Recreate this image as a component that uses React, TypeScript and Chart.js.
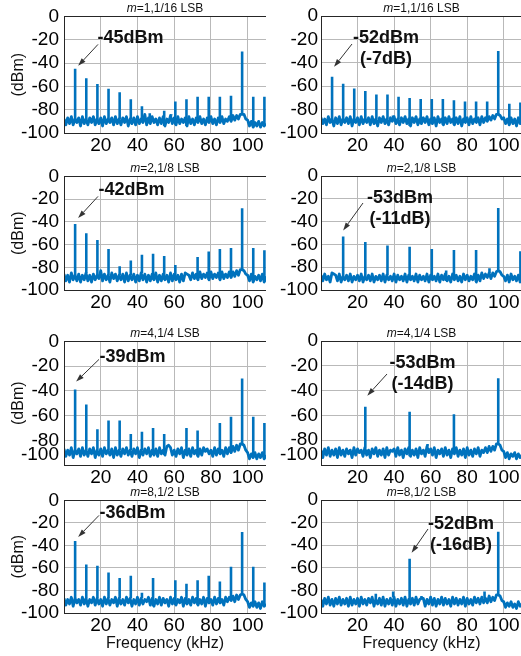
import React, { useEffect, useRef } from 'react';
import { Chart, registerables } from 'chart.js';

Chart.register(...registerables);

const FONT = '"Liberation Sans", Arial, Helvetica, sans-serif';
const TRACE = '#0072bd';
const GRID = '#b9b9b9';
const FRAME = '#262626';
const INK = '#111111';

// Axes: frequency in kHz, level in dBm
const FREQ_RANGE = [0, 110];
const FREQ_TICKS = [0, 20, 40, 60, 80, 100];
const LEVEL_RANGE = [-100, 0];
const LEVEL_TICKS = [0, -20, -40, -60, -80, -100];

// Noise-floor traces are sampled on a 1 kHz grid starting at 0 kHz
const NOISE_START_KHZ = 0;
const NOISE_STEP_KHZ = 1;

const ditherOrders = ['1', '2', '4', '8'];
const ditherSteps = ['1/16', '1/8', '1/4', '1/2'];

// ---- m = 1 ----
const noiseA_m1 = [
  -88, -93, -87, -92, -86, -93, -88, -91, -87, -94,
  -86, -92, -88, -93, -87, -91, -86, -93, -88, -92,
  -87, -94, -86, -92, -88, -91, -87, -93, -86, -92,
  -88, -93, -87, -91, -86, -94, -88, -92, -87, -93,
  -86, -92, -88, -91, -84, -93, -87, -92, -86, -91,
  -88, -93, -87, -92, -86, -94, -88, -91, -85, -92,
  -87, -93, -86, -92, -88, -91, -87, -94, -86, -92,
  -88, -93, -87, -91, -86, -92, -88, -93, -87, -91,
  -86, -92, -88, -93, -87, -91, -86, -92, -88, -90,
  -86, -90, -85, -89, -85, -88, -84, -84, -84, -88,
  -89, -94, -90, -95, -91, -94, -90, -95, -91, -94, -92,
];
const spursA_m1: [number, number][] = [
  [6.06, -45], [12.13, -53], [18.19, -58], [24.25, -62], [30.31, -65], [36.38, -71],
  [42.44, -77], [46.7, -83], [54.56, -81], [58.4, -84], [60.63, -73], [66.69, -71],
  [72.75, -69], [78.81, -69], [84.88, -69], [90.94, -68], [97, -30], [103.06, -69], [109.13, -69],
];
const noiseB_m1 = [
  -87, -92, -88, -93, -86, -91, -88, -94, -87, -92,
  -86, -93, -88, -91, -87, -92, -86, -94, -88, -91,
  -87, -93, -86, -92, -88, -91, -87, -93, -86, -92,
  -88, -94, -87, -91, -86, -92, -88, -93, -87, -90,
  -86, -92, -88, -93, -87, -91, -86, -92, -88, -94,
  -87, -91, -86, -93, -88, -92, -87, -91, -86, -93,
  -88, -92, -87, -94, -86, -91, -88, -93, -87, -92,
  -86, -91, -88, -93, -87, -92, -86, -94, -88, -91,
  -87, -93, -86, -92, -88, -91, -87, -93, -86, -91,
  -87, -90, -86, -89, -85, -88, -84, -84, -85, -88,
  -87, -92, -88, -93, -87, -92, -88, -94, -87, -92, -89,
];
const spursB_m1: [number, number][] = [
  [6.06, -52], [12.13, -58], [18.19, -62], [24.25, -64], [30.31, -67], [36.38, -67],
  [39.4, -85], [42.44, -69], [48.5, -70], [54.56, -71], [60.63, -71], [66.69, -71],
  [72.75, -72], [78.81, -73], [84.88, -73], [90.94, -73], [97, -30], [103.06, -75], [109.13, -74],
];

// ---- m = 2 ----
const noiseA_m2 = [
  -86, -92, -87, -93, -85, -91, -87, -92, -86, -93,
  -87, -91, -85, -92, -87, -93, -86, -91, -87, -90,
  -83, -92, -86, -91, -87, -93, -85, -90, -86, -92,
  -87, -91, -86, -93, -85, -92, -87, -91, -86, -93,
  -87, -92, -85, -91, -86, -93, -87, -92, -86, -91,
  -85, -93, -87, -92, -86, -91, -87, -93, -85, -92,
  -86, -91, -87, -93, -86, -92, -85, -86, -87, -91,
  -85, -90, -86, -91, -84, -90, -86, -89, -85, -91,
  -84, -90, -86, -89, -85, -91, -84, -90, -86, -89,
  -84, -89, -84, -88, -83, -87, -82, -82, -83, -86,
  -87, -92, -86, -93, -88, -91, -87, -92, -86, -93, -88,
];
const spursA_m2: [number, number][] = [
  [6.06, -42], [12.13, -50], [18.19, -56], [24.25, -64], [30.31, -79], [36.38, -74],
  [42.44, -69], [48.5, -68], [54.56, -70], [60.63, -78], [72.75, -71], [78.81, -66],
  [84.88, -64], [90.94, -63], [97, -28], [103.06, -63], [109.13, -65],
];
const noiseB_m2 = [
  -87, -92, -86, -91, -88, -93, -85, -86, -87, -92,
  -86, -93, -88, -91, -87, -92, -86, -93, -88, -91,
  -87, -92, -86, -93, -88, -91, -87, -92, -86, -93,
  -88, -91, -87, -92, -86, -93, -87, -91, -88, -92,
  -86, -93, -87, -91, -88, -92, -86, -93, -87, -91,
  -88, -92, -86, -93, -87, -91, -88, -92, -86, -93,
  -87, -91, -88, -92, -86, -93, -87, -91, -86, -92,
  -88, -93, -86, -91, -87, -92, -88, -93, -86, -91,
  -87, -92, -88, -91, -86, -93, -87, -92, -85, -90,
  -86, -89, -85, -90, -85, -88, -84, -83, -84, -87,
  -88, -92, -87, -93, -86, -91, -88, -92, -87, -93, -88,
];
const spursB_m2: [number, number][] = [
  [12.13, -53], [24.25, -58], [36.38, -61], [48.5, -62], [60.63, -64], [68.5, -83],
  [72.75, -65], [84.88, -65], [92.2, -81], [97, -28], [109.13, -66],
];

// ---- m = 4 ----
const noiseA_m4 = [
  -87, -93, -88, -92, -86, -94, -88, -91, -87, -93,
  -86, -92, -88, -93, -87, -91, -86, -94, -88, -92,
  -87, -93, -86, -91, -88, -92, -87, -94, -86, -92,
  -88, -93, -87, -91, -86, -92, -88, -93, -87, -91,
  -86, -94, -88, -92, -87, -91, -86, -93, -88, -92,
  -87, -93, -86, -91, -88, -92, -85, -84, -86, -92,
  -88, -93, -87, -91, -86, -94, -88, -92, -87, -93,
  -86, -91, -88, -93, -87, -92, -86, -89, -87, -91,
  -88, -93, -86, -92, -87, -91, -88, -93, -86, -91,
  -86, -90, -85, -89, -84, -88, -83, -83, -84, -88,
  -90, -95, -91, -94, -90, -95, -91, -94, -90, -95, -92,
];
const spursA_m4: [number, number][] = [
  [6.06, -39], [12.13, -51], [18.19, -71], [24.25, -64], [30.31, -64], [36.38, -75],
  [42.44, -73], [48.5, -70], [54.56, -75], [66.69, -70], [72.75, -72], [84.88, -66],
  [90.94, -61], [97, -30], [103.06, -61], [109.13, -66],
];
const noiseB_m4 = [
  -88, -94, -87, -92, -86, -93, -88, -92, -87, -94,
  -86, -92, -88, -93, -87, -91, -88, -94, -86, -92,
  -87, -90, -88, -93, -86, -92, -88, -94, -87, -91,
  -86, -93, -88, -92, -87, -94, -86, -92, -88, -89,
  -87, -93, -86, -92, -88, -94, -87, -91, -86, -93,
  -88, -92, -87, -94, -86, -91, -88, -93, -85, -90,
  -87, -92, -86, -94, -88, -91, -87, -93, -86, -92,
  -88, -94, -87, -91, -86, -93, -88, -92, -87, -94,
  -86, -92, -88, -93, -87, -91, -86, -93, -88, -90,
  -86, -90, -85, -89, -85, -88, -83, -83, -84, -88,
  -89, -94, -90, -95, -91, -93, -90, -95, -91, -94, -92,
];
const spursB_m4: [number, number][] = [
  [24.25, -53], [48.5, -57], [58.3, -83], [72.75, -59], [97, -30],
];

// ---- m = 8 ----
const noiseA_m8 = [
  -87, -93, -88, -92, -86, -94, -87, -91, -88, -93,
  -86, -92, -87, -94, -88, -91, -86, -93, -87, -92,
  -88, -94, -86, -92, -87, -93, -88, -91, -86, -94,
  -87, -92, -88, -93, -86, -91, -87, -94, -88, -92,
  -86, -93, -87, -92, -88, -90, -86, -93, -87, -94,
  -88, -92, -86, -93, -87, -91, -88, -94, -86, -92,
  -87, -93, -88, -91, -86, -94, -87, -92, -88, -93,
  -86, -91, -87, -93, -88, -92, -86, -94, -87, -91,
  -88, -93, -86, -92, -87, -91, -88, -93, -86, -90,
  -86, -89, -85, -90, -84, -88, -84, -83, -84, -88,
  -90, -95, -91, -94, -90, -95, -91, -96, -90, -94, -92,
];
const spursA_m8: [number, number][] = [
  [6.06, -36], [12.13, -57], [18.19, -58], [24.25, -64], [30.31, -69], [36.38, -67],
  [42.44, -82], [48.5, -69], [60.63, -71], [66.69, -74], [72.75, -71], [78.81, -67],
  [84.88, -72], [90.94, -59], [97, -28], [103.06, -59], [109.13, -73],
];
const noiseB_m8 = [
  -88, -94, -87, -92, -86, -93, -88, -94, -87, -92,
  -86, -93, -88, -92, -87, -94, -86, -93, -88, -92,
  -87, -94, -86, -92, -88, -93, -87, -91, -86, -94,
  -88, -92, -87, -93, -86, -94, -88, -92, -87, -93,
  -86, -94, -88, -92, -87, -93, -86, -94, -88, -92,
  -87, -93, -86, -92, -88, -87, -87, -94, -88, -92,
  -86, -93, -87, -94, -88, -92, -86, -93, -87, -92,
  -88, -94, -86, -92, -87, -93, -88, -92, -86, -94,
  -87, -92, -88, -93, -86, -91, -87, -92, -86, -91,
  -87, -91, -85, -90, -86, -89, -84, -84, -85, -89,
  -90, -95, -91, -94, -90, -95, -92, -96, -90, -94, -92,
];
const spursB_m8: [number, number][] = [
  [30, -83], [39.5, -81], [48.5, -52], [55, -85], [89.5, -81], [97, -28],
];

// Frequency of the spur called out in each panel
const markedA = [6.06, 6.06, 6.06, 6.06];
const markedB = [6.06, 12.13, 24.25, 48.5];

const noiseA = [noiseA_m1, noiseA_m2, noiseA_m4, noiseA_m8];
const noiseB = [noiseB_m1, noiseB_m2, noiseB_m4, noiseB_m8];
const spursA = [spursA_m1, spursA_m2, spursA_m4, spursA_m8];
const spursB = [spursB_m1, spursB_m2, spursB_m4, spursB_m8];

// ---- layout (pixels) ----
const TITLE_SPACE = 16;
const X_AXIS_SPACE = 26;
const X_AXIS_SPACE_LAST = 43;
const COLUMN_FRAMES = [
  { plotLeft: 64, plotWidth: 202, canvasLeft: 0, labelPad: 5, axisTitle: '(dBm)' },
  { plotLeft: 321, plotWidth: 201, canvasLeft: 261, labelPad: 3, axisTitle: '' },
];
const ROW_FRAMES = [
  { plotTop: 16, plotHeight: 117, lowLabelLift: 0 },
  { plotTop: 176, plotHeight: 114, lowLabelLift: 0 },
  { plotTop: 341, plotHeight: 124, lowLabelLift: 10 },
  { plotTop: 500, plotHeight: 113, lowLabelLift: 0 },
];
// Call-out placement relative to the plot area: text centre/baseline, arrow tail,
// and arrow-head offset from the spur peak
const CALLOUTS = [
  [{ text: [66.5, 27], tail: [34, 28], head: [3, -3] }, { text: [65, 27], tail: [31, 28], head: [2, -10] }],
  [{ text: [67.5, 19], tail: [34, 20], head: [3, -6] }, { text: [79, 27], tail: [42, 27], head: [0, -6] }],
  [{ text: [68.5, 21], tail: [35, 18], head: [1, -8] }, { text: [101.5, 27], tail: [66, 33], head: [2, -11] }],
  [{ text: [68.5, 18], tail: [35, 15], head: [3, -4] }, { text: [140, 29], tail: [107, 29], head: [2, -6] }],
];

const TICK_FONT = { family: FONT, size: 19, lineHeight: 1.2 };
const AXIS_TITLE_FONT = { family: FONT, size: 16, lineHeight: 1.2 };

const levelOf = (spurs: [number, number][], f: number) => {
  const hit = spurs.find((s) => s[0] === f);
  return hit ? hit[1] : 0;
};

const noisePoints = (noise: number[]) =>
  noise.map((y, i) => ({ x: NOISE_START_KHZ + i * NOISE_STEP_KHZ, y }));

const spurSegments = (spurs: [number, number][], noise: number[]) =>
  spurs.flatMap(([f, level]) => {
    const idx = Math.min(noise.length - 1, Math.round((f - NOISE_START_KHZ) / NOISE_STEP_KHZ));
    const floor = noise[idx];
    return [
      { x: f, y: floor },
      { x: f, y: level },
      { x: f, y: null as number | null },
    ];
  });

interface PanelSpec {
  row: number;
  col: number;
}

function SpectrumPanel({ row, col }: PanelSpec) {
  const ref = useRef<HTMLCanvasElement | null>(null);
  const cf = COLUMN_FRAMES[col];
  const rf = ROW_FRAMES[row];
  const isLast = row === ROW_FRAMES.length - 1;
  const xSpace = isLast ? X_AXIS_SPACE_LAST : X_AXIS_SPACE;
  const width = cf.plotLeft + cf.plotWidth - cf.canvasLeft;
  const height = TITLE_SPACE + rf.plotHeight + xSpace;
  const top = rf.plotTop - TITLE_SPACE;

  useEffect(() => {
    const canvas = ref.current;
    if (!canvas) return;
    const noise = col === 0 ? noiseA[row] : noiseB[row];
    const spurs = col === 0 ? spursA[row] : spursB[row];
    const markedFreq = col === 0 ? markedA[row] : markedB[row];
    const markedLevel = levelOf(spurs, markedFreq);
    const refLevel = levelOf(spursA[row], markedA[row]);
    const calloutLines = col === 0
      ? [`${markedLevel}dBm`]
      : [`${markedLevel}dBm`, `(${markedLevel - refLevel}dB)`];
    const place = CALLOUTS[row][col];
    const lift = rf.lowLabelLift;

    const decor = {
      id: 'panelDecor',
      afterDatasetsDraw(chart: any) {
        const { ctx, chartArea: ca } = chart;
        ctx.save();
        ctx.strokeStyle = FRAME;
        ctx.lineWidth = 1;
        ctx.strokeRect(Math.round(ca.left) + 0.5, Math.round(ca.top) + 0.5,
          Math.round(ca.right - ca.left), Math.round(ca.bottom - ca.top));
        ctx.restore();
      },
      afterDraw(chart: any) {
        const { ctx, chartArea: ca, scales } = chart;
        ctx.save();
        // panel title with italic m
        const rest = `=${ditherOrders[row]},${ditherSteps[row]} LSB`;
        const italic = `italic 12px ${FONT}`;
        const upright = `12px ${FONT}`;
        ctx.fillStyle = INK;
        ctx.textBaseline = 'alphabetic';
        ctx.textAlign = 'left';
        ctx.font = italic;
        const w1 = ctx.measureText('m').width;
        ctx.font = upright;
        const w2 = ctx.measureText(rest).width;
        const tx = (ca.left + ca.right) / 2 - (w1 + w2) / 2;
        const ty = ca.top - 4;
        ctx.font = italic;
        ctx.fillText('m', tx, ty);
        ctx.font = upright;
        ctx.fillText(rest, tx + w1, ty);

        // lowest level label raised clear of the frequency labels
        if (lift) {
          ctx.font = `19px ${FONT}`;
          ctx.textAlign = 'right';
          ctx.textBaseline = 'middle';
          ctx.fillStyle = '#000';
          ctx.fillText(String(LEVEL_RANGE[0]), ca.left - cf.labelPad, scales.y.getPixelForValue(LEVEL_RANGE[0]) - lift);
        }

        // call-out arrow to the marked spur
        const px = scales.x.getPixelForValue(markedFreq);
        const py = scales.y.getPixelForValue(markedLevel);
        const hx = px + place.head[0];
        const hy = py + place.head[1];
        const sx = ca.left + place.tail[0];
        const sy = ca.top + place.tail[1];
        const ang = Math.atan2(hy - sy, hx - sx);
        const L = 8;
        const W = 2.6;
        const bx = hx - L * Math.cos(ang);
        const by = hy - L * Math.sin(ang);
        ctx.strokeStyle = '#333';
        ctx.fillStyle = '#333';
        ctx.lineWidth = 1;
        ctx.beginPath();
        ctx.moveTo(sx, sy);
        ctx.lineTo(bx, by);
        ctx.stroke();
        ctx.beginPath();
        ctx.moveTo(hx, hy);
        ctx.lineTo(bx - W * Math.sin(ang), by + W * Math.cos(ang));
        ctx.lineTo(bx + W * Math.sin(ang), by - W * Math.cos(ang));
        ctx.closePath();
        ctx.fill();

        ctx.font = `bold 18px ${FONT}`;
        ctx.fillStyle = '#111';
        ctx.textAlign = 'center';
        ctx.textBaseline = 'alphabetic';
        calloutLines.forEach((t, i) => {
          ctx.fillText(t, ca.left + place.text[0], ca.top + place.text[1] + i * 21);
        });
        ctx.restore();
      },
    };

    const chart = new Chart(canvas, {
      type: 'line',
      data: {
        datasets: [
          {
            data: noisePoints(noise),
            borderColor: TRACE,
            borderWidth: 2.8,
            borderJoinStyle: 'round',
            pointRadius: 0,
            tension: 0,
            fill: false,
          },
          {
            data: spurSegments(spurs, noise),
            borderColor: TRACE,
            borderWidth: 2.6,
            pointRadius: 0,
            tension: 0,
            fill: false,
            spanGaps: false,
          },
        ],
      },
      options: {
        responsive: false,
        animation: false,
        devicePixelRatio: 1,
        layout: { padding: { top: TITLE_SPACE, right: 0, bottom: 0, left: 0 } },
        plugins: { legend: { display: false }, tooltip: { enabled: false }, title: { display: false } },
        events: [],
        scales: {
          x: {
            type: 'linear',
            min: FREQ_RANGE[0],
            max: FREQ_RANGE[1],
            afterBuildTicks: (s: any) => { s.ticks = FREQ_TICKS.map((v) => ({ value: v })); },
            afterFit: (s: any) => { s.height = xSpace; },
            grid: { color: GRID, lineWidth: 1, drawTicks: false },
            border: { display: false },
            ticks: {
              autoSkip: false,
              maxRotation: 0,
              padding: 1,
              color: '#000',
              font: TICK_FONT,
              callback: (v: any) => (v === FREQ_RANGE[0] ? '' : String(v)),
            },
            title: {
              display: isLast,
              text: 'Frequency (kHz)',
              color: INK,
              font: AXIS_TITLE_FONT,
              padding: { top: 0, bottom: 3 },
            },
          },
          y: {
            type: 'linear',
            min: LEVEL_RANGE[0],
            max: LEVEL_RANGE[1],
            afterBuildTicks: (s: any) => { s.ticks = LEVEL_TICKS.map((v) => ({ value: v })); },
            afterFit: (s: any) => { s.width = cf.plotLeft - cf.canvasLeft; },
            grid: { color: GRID, lineWidth: 1, drawTicks: false },
            border: { display: false },
            ticks: {
              autoSkip: false,
              padding: cf.labelPad,
              color: '#000',
              font: TICK_FONT,
              callback: (v: any) => (lift && v === LEVEL_RANGE[0] ? '' : String(v)),
            },
            title: {
              display: cf.axisTitle !== '',
              text: cf.axisTitle,
              color: INK,
              font: AXIS_TITLE_FONT,
              padding: { top: 9, bottom: 0 },
            },
          },
        },
      },
      plugins: [decor],
    } as any);
    return () => chart.destroy();
  }, [row, col]);

  return (
    <canvas
      ref={ref}
      width={width}
      height={height}
      style={{ position: 'absolute', left: cf.canvasLeft, top, width, height }}
    />
  );
}

export default function App() {
  const panels: PanelSpec[] = [];
  ROW_FRAMES.forEach((_, row) => COLUMN_FRAMES.forEach((__, col) => panels.push({ row, col })));
  return (
    <div
      style={{
        position: 'absolute',
        left: 0,
        top: 0,
        width: 521,
        height: 656,
        overflow: 'hidden',
        background: '#fff',
      }}
    >
      {panels.map((p) => (
        <SpectrumPanel key={`${p.row}-${p.col}`} row={p.row} col={p.col} />
      ))}
    </div>
  );
}
